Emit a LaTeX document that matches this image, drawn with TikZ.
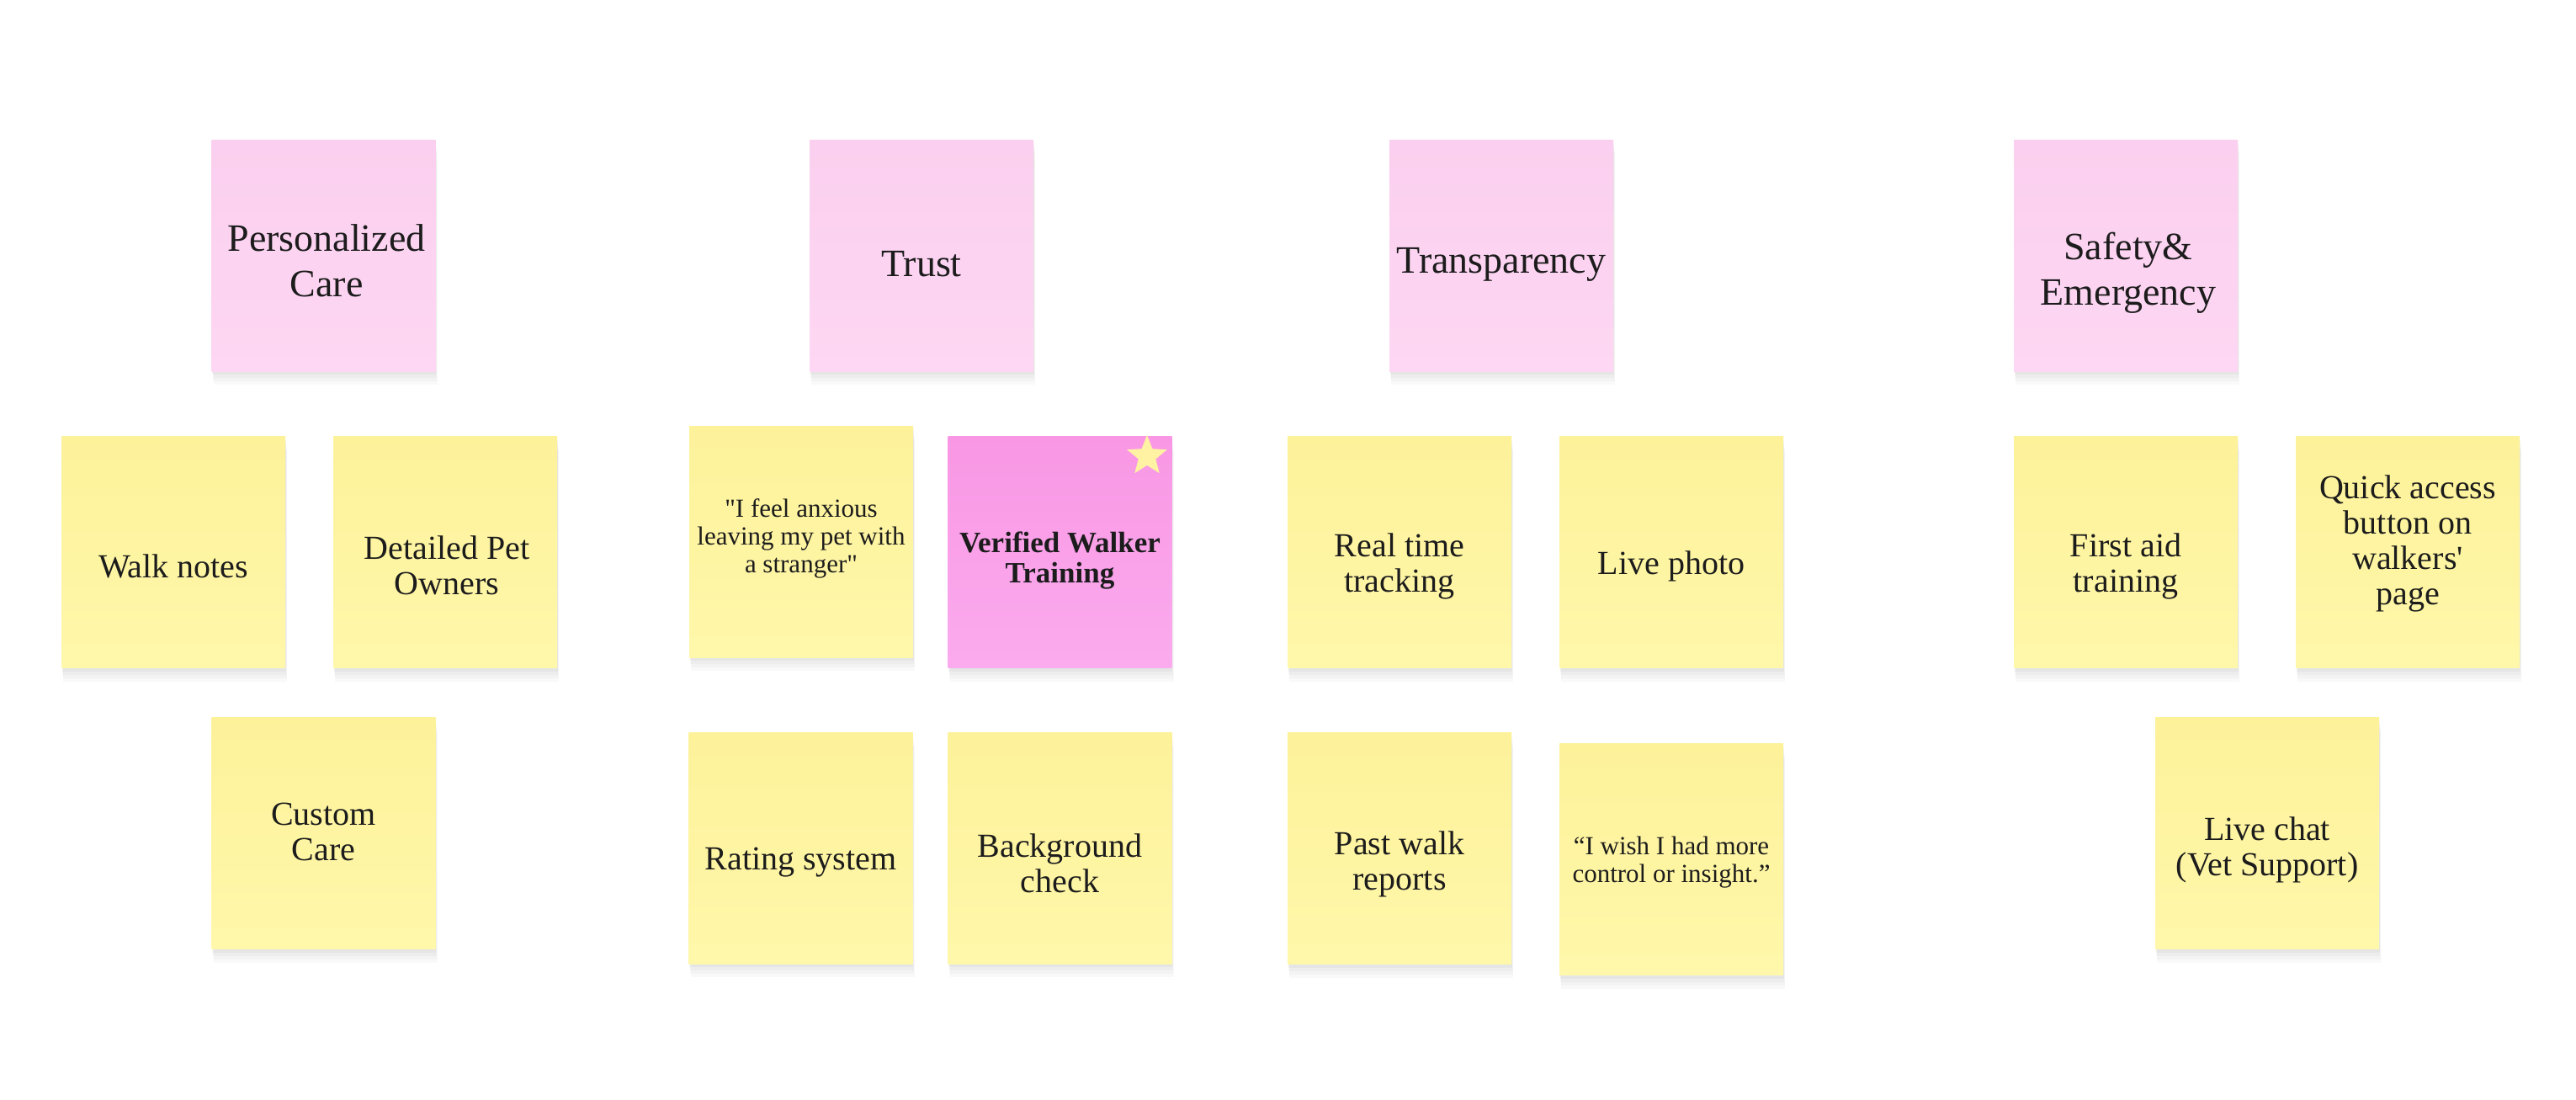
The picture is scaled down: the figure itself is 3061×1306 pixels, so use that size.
\documentclass[tikz,border=0pt]{standalone}
\usepackage{fontspec}
\setmainfont{Liberation Serif}[Ligatures=TeXOff]
\usetikzlibrary{shapes.geometric}
\definecolor{pinkA}{HTML}{FBCFEF}
\definecolor{pinkB}{HTML}{FDD7F3}
\definecolor{yelA}{HTML}{FDF29A}
\definecolor{yelB}{HTML}{FFF7AA}
\definecolor{hotA}{HTML}{F997E4}
\definecolor{hotB}{HTML}{FBABEE}
\definecolor{starc}{HTML}{FFF2A3}
\definecolor{ink}{HTML}{1C1C1C}
\definecolor{shade1}{HTML}{5A5A5A}
\begin{document}
\begin{tikzpicture}[x=1pt,y=-1pt,
  note/.style={minimum width=266pt, minimum height=275pt, inner sep=0pt, draw=none,
    preaction={fill=shade1, fill opacity=0.03, transform canvas={xshift=2pt, yshift=-16pt}},
    preaction={fill=shade1, fill opacity=0.035, transform canvas={xshift=1.5pt, yshift=-12pt}},
    preaction={fill=shade1, fill opacity=0.04, transform canvas={xshift=1pt, yshift=-8pt}},
    preaction={fill=shade1, fill opacity=0.05, transform canvas={xshift=0.5pt, yshift=-4pt}}},
  pnote/.style={note, top color=pinkA, bottom color=pinkB},
  ynote/.style={note, top color=yelA, bottom color=yelB},
  hnote/.style={note, top color=hotA, bottom color=hotB},
  ttl/.style={text=ink, align=center, inner sep=0pt, font=\fontsize{46}{54}\selectfont},
  body/.style={text=ink, align=center, inner sep=0pt, font=\fontsize{40}{42}\selectfont},
  quo/.style={text=ink, align=center, inner sep=0pt, font=\fontsize{31}{33}\selectfont},
  bld/.style={text=ink, align=center, inner sep=0pt, font=\fontsize{35}{36}\selectfont\bfseries},
  starmark/.style={star, star points=5, star point ratio=2.3, fill=starc, draw=none, minimum size=50pt, inner sep=0pt}
]
\useasboundingbox (0,0) rectangle (3061,1306);
\fill[white] (0,0) rectangle (3061,1306);

% theme notes
\node[pnote] (pc) at (384.5,303.5) {};
\node[ttl] (pc-t) at (388,310) {Personalized\\Care};
\node[pnote] (trust) at (1095,303.5) {};
\node[ttl] (trust-t) at (1095,314) {Trust};
\node[pnote] (transp) at (1784,303.5) {};
\node[ttl] (transp-t) at (1784,314) {Transparency};
\node[pnote] (safety) at (2526,303.5) {};
\node[ttl] (safety-t) at (2529,324) {Safety\&\\Emergency};

% personalized care
\node[ynote] (walk) at (206,656) {};
\node[body] (walk-t) at (206,673) {Walk notes};
\node[ynote] (detail) at (529,656) {};
\node[body] (detail-t) at (531,672) {Detailed Pet\\Owners};
\node[ynote] (custom) at (384.5,990) {};
\node[body] (custom-t) at (384.5,988) {Custom\\Care};

% trust
\node[ynote] (anx) at (952,643.5) {};
\node[quo] (anx-t) at (952,640) {"I feel anxious\\leaving my pet with\\a stranger"};
\node[hnote] (verif) at (1259.5,656) {};
\node[bld] (verif-t) at (1259.5,666) {Verified Walker\\Training};
\node[starmark] (star) at (1363,542) {};
\node[ynote] (rating) at (951.5,1007.5) {};
\node[body] (rating-t) at (951.5,1025) {Rating system};
\node[ynote] (bg) at (1259.5,1007.5) {};
\node[body] (bg-t) at (1259.5,1026) {Background\\check};

% transparency
\node[ynote] (rt) at (1663,656) {};
\node[body] (rt-t) at (1663,673) {Real time\\tracking};
\node[ynote] (photo) at (1986,656) {};
\node[body] (photo-t) at (1986,673) {Live photo};
\node[ynote] (past) at (1663,1008) {};
\node[body] (past-t) at (1663,1027) {Past walk\\reports};
\node[ynote] (wish) at (1986,1021) {};
\node[quo] (wish-t) at (1986,1025) {“I wish I had more\\control or insight.”};

% safety
\node[ynote] (aid) at (2526,656) {};
\node[body] (aid-t) at (2526,673) {First aid\\training};
\node[ynote] (quick) at (2861,656) {};
\node[body] (quick-t) at (2861,646) {Quick access\\button on\\walkers'\\page};
\node[ynote] (chat) at (2694,990) {};
\node[body] (chat-t) at (2694,1010) {Live chat\\(Vet Support)};
\end{tikzpicture}
\end{document}
